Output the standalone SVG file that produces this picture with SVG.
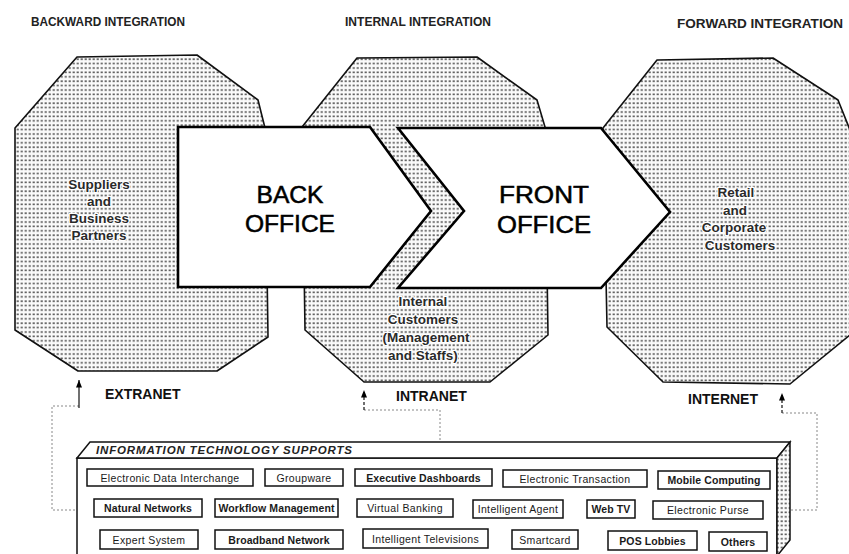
<svg xmlns="http://www.w3.org/2000/svg" width="849" height="554" viewBox="0 0 849 554">
<style>
.title{font-family:"Liberation Sans",Arial,sans-serif;font-size:13px;font-weight:bold;fill:#222}
.oct{fill:url(#stip);stroke:#111;stroke-width:1.6;stroke-linejoin:round}
.arrow{fill:#fff;stroke:#000;stroke-width:2.6;stroke-linejoin:miter}
.big{font-family:"Liberation Sans",Arial,sans-serif;font-size:23px;fill:#000;stroke:#000;stroke-width:0.5;text-anchor:middle}
.lbl{font-family:"Liberation Sans",Arial,sans-serif;font-size:13.5px;font-weight:bold;fill:#2a2a2a;text-anchor:middle;stroke:#fff;stroke-width:2.4;paint-order:stroke;stroke-linejoin:round}
.net{font-family:"Liberation Sans",Arial,sans-serif;font-size:14px;font-weight:bold;fill:#111}
.item rect{fill:#fff;stroke:#111;stroke-width:1.5}
.item text{font-family:"Liberation Sans",Arial,sans-serif;font-size:10.5px;letter-spacing:0.35px;fill:#1a1a1a;text-anchor:middle}
.item.b text{font-weight:bold;letter-spacing:0.1px}
.dot{fill:none;stroke:#888;stroke-width:1;stroke-dasharray:2 2}
.ar{fill:none;stroke:#111;stroke-width:1.2}
</style>
<defs>
<pattern id="stip" width="4" height="4.4" patternUnits="userSpaceOnUse">
<rect width="4" height="4.4" fill="#fafafa"/>
<rect x="0.6" y="1.2" width="2.2" height="1.6" fill="#5c5c5c"/>
</pattern>
<marker id="up" viewBox="0 0 8 10" refX="4" refY="0" markerWidth="6" markerHeight="8" orient="0" markerUnits="userSpaceOnUse">
<path d="M4,0 L8,10 L0,10 Z" fill="#000"/>
</marker>
</defs>
<rect width="849" height="554" fill="#fff"/>

<text class="title" x="31" y="26" textLength="154" lengthAdjust="spacingAndGlyphs">BACKWARD INTEGRATION</text>
<text class="title" x="345" y="26" textLength="146" lengthAdjust="spacingAndGlyphs">INTERNAL INTEGRATION</text>
<text class="title" x="677" y="28" textLength="166" lengthAdjust="spacingAndGlyphs">FORWARD INTEGRATION</text>

<g id="suppliers">
<polygon class="oct" points="77,57 197,55 258,100 265,128 268,337 217,371 78,371 15,330 15,128"/>
<text class="lbl" x="99" y="189">Suppliers</text>
<text class="lbl" x="99" y="206">and</text>
<text class="lbl" x="99" y="223">Business</text>
<text class="lbl" x="99" y="240">Partners</text>
</g>
<g id="internal">
<polygon class="oct" points="357,58 477,57 537,100 545,127 548,335 490,382 364,382 305,330 302,127"/>
<text class="lbl" x="423" y="306">Internal</text>
<text class="lbl" x="423" y="324">Customers</text>
<text class="lbl" x="426" y="342">(Management</text>
<text class="lbl" x="423" y="360">and Staffs)</text>
</g>
<g id="customers">
<polygon class="oct" points="657,60 773,58 838,100 850,130 850,335 790,384 663,382 607,327 603,128"/>
<text class="lbl" x="736" y="197">Retail</text>
<text class="lbl" x="735" y="215">and</text>
<text class="lbl" x="734" y="232">Corporate</text>
<text class="lbl" x="740" y="250">Customers</text>
</g>

<g id="back-office">
<polygon class="arrow" points="178,127 370,127 431,211 370,287 178,287"/>
<text class="big" x="290" y="203" textLength="67" lengthAdjust="spacingAndGlyphs">BACK</text>
<text class="big" x="290" y="232" textLength="90" lengthAdjust="spacingAndGlyphs">OFFICE</text>
</g>
<g id="front-office">
<polygon class="arrow" points="398,128 601,128 670,212 601,288 398,288 464,211"/>
<text class="big" x="544" y="203" textLength="90" lengthAdjust="spacingAndGlyphs">FRONT</text>
<text class="big" x="544" y="233" textLength="94" lengthAdjust="spacingAndGlyphs">OFFICE</text>
</g>

<text class="net" x="105" y="399">EXTRANET</text>
<text class="net" x="396" y="401">INTRANET</text>
<text class="net" x="688" y="404">INTERNET</text>

<g id="connectors">
<path class="dot" d="M79,406 H52 V510 H77"/>
<line class="ar" x1="79" y1="408" x2="79" y2="380" marker-end="url(#up)"/>
<path class="dot" d="M364,410 H440 V442"/>
<line class="ar" x1="364" y1="410" x2="364" y2="390" stroke-dasharray="3 2" marker-end="url(#up)"/>
<path class="dot" d="M782,413 H817 V510 H784"/>
<line class="ar" x1="782" y1="413" x2="782" y2="393" stroke-dasharray="3 2" marker-end="url(#up)"/>
</g>

<g id="it-supports">
<rect x="77" y="458" width="700" height="100" fill="#fff" stroke="#111" stroke-width="1.5"/>
<polygon points="90,442 790,442 777,458 77,458" fill="#fff" stroke="#111" stroke-width="1.5"/>
<polygon points="777,458 790,442 790,540 777,556" fill="url(#stip)" stroke="#111" stroke-width="1.5"/>
<text x="96" y="454" font-family="Liberation Sans, Arial, sans-serif" font-size="11.5" font-weight="bold" font-style="italic" fill="#222" textLength="256">INFORMATION TECHNOLOGY SUPPORTS</text>

<g class="item" id="edi"><rect x="87" y="469" width="166" height="17"/><text x="170" y="481.5">Electronic Data Interchange</text></g>
<g class="item" id="groupware"><rect x="265" y="469" width="78" height="17"/><text x="304" y="481.5">Groupware</text></g>
<g class="item b" id="dashboards"><rect x="355" y="469" width="137" height="17"/><text x="423.5" y="481.5">Executive Dashboards</text></g>
<g class="item" id="etrans"><rect x="503" y="470" width="144" height="17"/><text x="575" y="482.5">Electronic Transaction</text></g>
<g class="item b" id="mobile"><rect x="658" y="471" width="112" height="18"/><text x="714" y="484">Mobile Computing</text></g>

<g class="item b" id="natural"><rect x="94" y="499" width="108" height="18"/><text x="148" y="512">Natural Networks</text></g>
<g class="item b" id="workflow"><rect x="215" y="499" width="123" height="18"/><text x="276.5" y="512">Workflow Management</text></g>
<g class="item" id="vbanking"><rect x="357" y="499" width="96" height="18"/><text x="405" y="512">Virtual Banking</text></g>
<g class="item" id="agent"><rect x="473" y="500" width="90" height="18"/><text x="518" y="513">Intelligent Agent</text></g>
<g class="item b" id="webtv"><rect x="587" y="500" width="48" height="18"/><text x="611" y="513">Web TV</text></g>
<g class="item" id="purse"><rect x="653" y="501" width="110" height="18"/><text x="708" y="514">Electronic Purse</text></g>

<g class="item" id="expert"><rect x="100" y="530" width="98" height="19"/><text x="149" y="543.5">Expert System</text></g>
<g class="item b" id="broadband"><rect x="215" y="530" width="128" height="19"/><text x="279" y="543.5">Broadband Network</text></g>
<g class="item" id="itv"><rect x="363" y="529" width="125" height="19"/><text x="425.5" y="542.5">Intelligent Televisions</text></g>
<g class="item" id="smartcard"><rect x="512" y="530" width="66" height="19"/><text x="545" y="543.5">Smartcard</text></g>
<g class="item b" id="pos"><rect x="608" y="531" width="89" height="19"/><text x="652.5" y="544.5">POS Lobbies</text></g>
<g class="item b" id="others"><rect x="709" y="532" width="58" height="19"/><text x="738" y="545.5">Others</text></g>
</g>
</svg>
